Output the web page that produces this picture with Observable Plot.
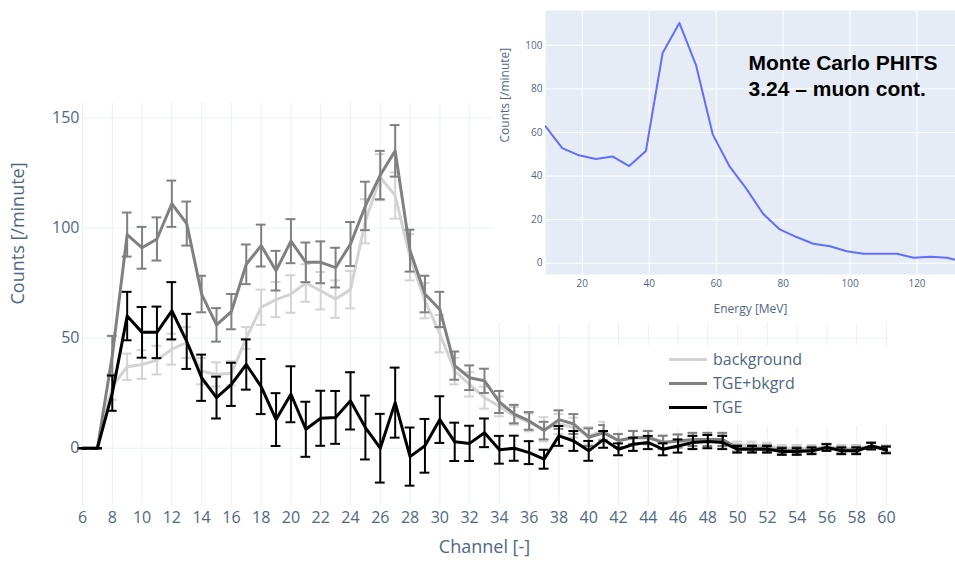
<!DOCTYPE html>
<html>
<head>
<meta charset="utf-8">
<script src="https://cdn.jsdelivr.net/npm/d3@7"></script>
<script src="https://cdn.jsdelivr.net/npm/@observablehq/plot@0.6"></script>
<style>
  html, body { margin: 0; padding: 0; background: white; }
  #wrap { position: relative; width: 955px; height: 561px; overflow: hidden; font-family: 'Open Sans', sans-serif; }
  #wrap svg { position: absolute; }
  #legend { position: absolute; left: 605px; top: 345px; width: 290px; height: 81px; background: white; }
  .lg-row { position: absolute; left: 0; height: 24px; width: 290px; }
  .lg-line { position: absolute; left: 64px; width: 38px; height: 3px; top: 11px; }
  .lg-text { position: absolute; left: 108px; top: 0; line-height: 24px; font-size: 16px; color: #506784; white-space: nowrap; }
</style>
</head>
<body>
<div id="wrap"></div>
<script>
// ---- Main chart data (channel spectrum) ----
const channels = [6,7,8,9,10,11,12,13,14,15,16,17,18,19,20,21,22,23,24,25,26,27,28,29,30,31,32,33,34,35,36,37,38,39,40,41,42,43,44,45,46,47,48,49,50,51,52,53,54,55,56,57,58,59,60];

const background = [0,0,28,37,38,40,45,48,35,33.5,34,50,64,67.5,70,75,71.5,67.7,72,103,123,114.7,86.7,67,52,35,29,23,19,14.7,11.7,8.6,11,9.4,5.6,8,3.3,5,5,3,3,3,3,3,1.5,1.5,1,0,0,0,0.5,0,0,1,0];
const backgroundErr = [0,0,6,6,6.5,6.5,7,7,6,5.5,5.5,5,8,8,8.5,8.5,8.5,8.5,8.5,10,10.5,10.5,10.5,8,8.5,6,5.5,5,4.5,4,4,5.5,4.5,4.5,4,4,3,3,3,3,3,3,3,3,1.5,1.5,1.5,1.5,1.5,1.5,1.5,1.5,1.5,1.5,1.5];

const tgeBkgrd = [0,0,42,97,91,95,111,102,70,56,62,83.5,92,80.6,94,84.4,84.4,82,92.7,110,124,135,89.7,70,63,37.5,32,30.6,21,15.5,12.4,8,13,11,5,7,3.5,4.8,4.8,2.6,3.3,4,4,4,0,0,0,-1,-1,-0.8,0.5,-0.8,-0.8,1,-0.5];
const tgeBkgrdErr = [0,0,9,10,9.5,9.8,10.5,10,8.3,7.6,8,9,9.5,9,10,9,9.5,9,10,11,11,11.7,9.5,8.3,8,6.4,5.6,5.5,5,4.2,4,4,4.2,4.5,4,3.5,3,3,3,3,3,3,3,3,1.5,1.5,1.5,1.5,1.5,1.5,1.5,1.5,1.5,1.5,1.5];

const tge = [0,0,25,60,52.6,52.6,62.4,48.5,32,23,29,38,28,13,24.5,8.6,13.6,14,21.5,9.4,0,20.7,-3.8,1.1,13,2.9,2.2,7,-0.7,0,-2,-5,5.6,3.3,-1.2,4,-0.5,1.8,2.6,-0.5,1,2.6,3,2.6,-0.5,-0.5,-0.5,-1.5,-1.5,-1.2,0.3,-1.2,-1.2,1,-0.8];
const tgeErr = [0,0,8,11,11.5,11.7,13,12.5,10.5,9.5,9.8,11.4,12.5,12,12.7,12.5,12.5,12,13,14.5,15.6,15.9,13.2,12.2,10.6,8.7,8,6.5,6.3,5.7,5.2,4.3,4.5,4.5,4.5,3.8,2.7,3,3,2.7,3,3,3,3,1.5,1.5,1.5,1.5,1.5,1.5,1.5,1.5,1.5,1.5,1.5];

const seriesNames = ["background", "TGE+bkgrd", "TGE"];
const seriesColors = ["#d3d3d3", "#808080", "#000000"];

const xTicks = [6,8,10,12,14,16,18,20,22,24,26,28,30,32,34,36,38,40,42,44,46,48,50,52,54,56,58,60];
const yTicks = [0, 50, 100, 150];

// ---- Inset data (Monte Carlo PHITS) ----
const energy = [9,14,19,24,29,34,39,44,49,54,59,64,69,74,79,84,89,94,99,104,109,114,119,124,129,134];
const simCounts = [62.8,52.8,49.5,47.8,49,44.6,51.5,96.5,110.3,90.8,59,44.4,34.2,22.7,15.5,12,8.9,7.8,5.5,4.3,4.3,4.3,2.5,3,2.5,0.5];
const insetXTicks = [20,40,60,80,100,120];
const insetYTicks = [0,20,40,60,80,100];

const textColor = "#506784";
const font = "'Open Sans', sans-serif";

const table = (vals, errs) => channels.map((ch, i) => ({ch, v: vals[i], e: errs[i]}));
const seriesData = [table(background, backgroundErr), table(tgeBkgrd, tgeBkgrdErr), table(tge, tgeErr)];

const cap = 0.33;
function seriesMarks(data, color) {
  return [
    Plot.ruleX(data, {x: "ch", y1: d => d.v - d.e, y2: d => d.v + d.e, stroke: color, strokeWidth: 2}),
    Plot.ruleY(data, {y: d => d.v - d.e, x1: d => d.ch - cap, x2: d => d.ch + cap, stroke: color, strokeWidth: 2}),
    Plot.ruleY(data, {y: d => d.v + d.e, x1: d => d.ch - cap, x2: d => d.ch + cap, stroke: color, strokeWidth: 2}),
    Plot.line(data, {x: "ch", y: "v", stroke: color, strokeWidth: 3})
  ];
}

const main = Plot.plot({
  width: 955, height: 561,
  marginLeft: 82, marginRight: 69, marginTop: 103, marginBottom: 56,
  style: {fontFamily: font, fontSize: "16px", color: textColor, background: "white", overflow: "visible"},
  x: {domain: [6, 60], label: null},
  y: {domain: [-26, 156.5], label: null},
  marks: [
    Plot.gridX(xTicks, {stroke: "#ebf0f8", strokeOpacity: 1, strokeWidth: 1}),
    Plot.gridY(yTicks, {stroke: "#ebf0f8", strokeOpacity: 1, strokeWidth: 1}),
    ...seriesMarks(seriesData[0], seriesColors[0]),
    ...seriesMarks(seriesData[1], seriesColors[1]),
    ...seriesMarks(seriesData[2], seriesColors[2]),
    Plot.axisX(xTicks, {tickSize: 0, tickPadding: 6, fill: textColor, tickFormat: d => String(d)}),
    Plot.axisY(yTicks, {tickSize: 0, tickPadding: 3, fill: textColor}),
    Plot.text(["Channel [-]"], {frameAnchor: "bottom", dy: 47, text: d => d, fontSize: 18, fill: textColor}),
    Plot.text(["Counts [/minute]"], {frameAnchor: "left", dx: -64, rotate: -90, text: d => d, fontSize: 18, fill: textColor})
  ]
});
main.style.left = "0px";
main.style.top = "0px";

const inset = Plot.plot({
  width: 463, height: 323,
  marginLeft: 53, marginRight: 0, marginTop: 10, marginBottom: 49,
  style: {fontFamily: font, fontSize: "10px", color: textColor, background: "white", overflow: "visible"},
  x: {domain: [9, 131.5], label: null},
  y: {domain: [-5.2, 116], label: null},
  marks: [
    Plot.frame({fill: "#e5ecf6", stroke: null}),
    Plot.gridX(insetXTicks, {stroke: "white", strokeOpacity: 1, strokeWidth: 1}),
    Plot.gridY(insetYTicks, {stroke: "white", strokeOpacity: 1, strokeWidth: 1}),
    Plot.line(energy.map((e, i) => ({e, c: simCounts[i]})), {x: "e", y: "c", stroke: "#636efa", strokeWidth: 2, clip: true}),
    Plot.axisX(insetXTicks, {tickSize: 0, tickPadding: 5, fill: textColor}),
    Plot.axisY(insetYTicks, {tickSize: 0, tickPadding: 3, fill: textColor}),
    Plot.text(["Energy [MeV]"], {frameAnchor: "bottom", dy: 38, text: d => d, fontSize: 12, fill: textColor}),
    Plot.text(["Counts [/minute]"], {frameAnchor: "left", dx: -40, rotate: -90, text: d => d, fontSize: 12, fill: textColor}),
    Plot.text(["Monte Carlo PHITS\n3.24 \u2013 muon cont."], {
      frameAnchor: "top-left", dx: 203, dy: 42, textAnchor: "start", lineAnchor: "top",
      lineHeight: 1.2, text: d => d, fontSize: 21, fontWeight: "bold",
      fontFamily: "'Liberation Sans', Arial, sans-serif", fill: "black"
    })
  ]
});
inset.style.left = "492px";
inset.style.top = "0px";

const wrap = document.getElementById("wrap");
wrap.appendChild(main);
wrap.appendChild(inset);

// Legend
const legend = document.createElement("div");
legend.id = "legend";
seriesNames.forEach((name, i) => {
  const row = document.createElement("div");
  row.className = "lg-row";
  row.style.top = (2 + i * 24) + "px";
  const ln = document.createElement("div");
  ln.className = "lg-line";
  ln.style.background = seriesColors[i];
  const tx = document.createElement("div");
  tx.className = "lg-text";
  tx.textContent = name;
  row.appendChild(ln);
  row.appendChild(tx);
  legend.appendChild(row);
});
wrap.appendChild(legend);
</script>
</body>
</html>
